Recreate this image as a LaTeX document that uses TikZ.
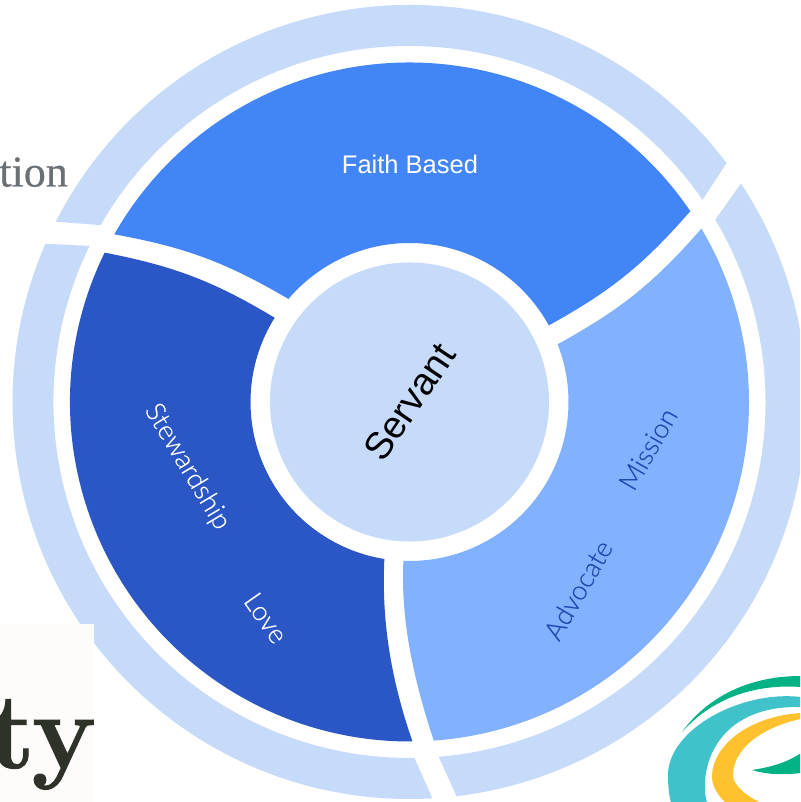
\documentclass[tikz,border=0pt]{standalone}
\usepackage{fontspec}
\setmainfont{Liberation Sans}
\newfontfamily\lightfont{Lato}[UprightFont=* Light,FakeBold=0.2]
\newfontfamily\logofont{Latin Modern Roman}[BoldFeatures={FakeBold=1}]
\newfontfamily\tionfont{Liberation Serif}[FakeBold=0.5]
\definecolor{ringblue}{HTML}{C6DAFA}
\definecolor{faithblue}{HTML}{4285F7}
\definecolor{stewblue}{HTML}{2B57C6}
\definecolor{advblue}{HTML}{82B1FF}
\definecolor{advtext}{HTML}{2248B4}
\definecolor{logogreen}{HTML}{00B284}
\definecolor{logoteal}{HTML}{40C2CB}
\definecolor{logoyellow}{HTML}{FFC22E}
\definecolor{creampatch}{HTML}{FDFCFA}
\definecolor{tytext}{HTML}{2E3229}
\definecolor{tiontext}{HTML}{6B7075}
\tikzset{
 ringpart/.style={fill=ringblue,draw=none},
 lab/.style={inner sep=0pt,font=\lightfont\fontsize{27}{27}\selectfont},
 logobit/.style={draw=none},
 pix/.style={yscale=-1,yshift=-802pt},
}
\begin{document}
\begin{tikzpicture}[x=1pt,y=1pt]
\useasboundingbox (0,0) rectangle (800,802);
\clip (0,0) rectangle (800,802);
\fill[white] (0,0) rectangle (800,802);
\begin{scope}[shift={(409.5,400)}]
% outer ring
\fill[ringpart] (154:356) arc[start angle=154,end angle=270.8,radius=356] -- (273.3:397) arc[start angle=273.3,end angle=156.5,radius=397] -- cycle;
\fill[ringpart] (34.6:356) arc[start angle=34.6,end angle=150.2,radius=356] -- (153:397) arc[start angle=153,end angle=37,radius=397] -- cycle;
\fill[ringpart] (274.7:356) arc[start angle=274.7,end angle=390.8,radius=356] -- (393.4:397) arc[start angle=393.4,end angle=276.8,radius=397] -- cycle;
% sectors
\fill[faithblue] (34.2:339.5) arc[start angle=34.2,end angle=150.4,radius=339.5] to[bend left=10] (139.6:159) arc[start angle=139.6,end angle=28.8,radius=159] to[bend right=10] cycle;
\fill[stewblue] (153.9:339.5) arc[start angle=153.9,end angle=270.5,radius=339.5] .. controls (-22.5,-266) and (-27.5,-208) .. (260.9:159) arc[start angle=260.9,end angle=148,radius=159] to[bend right=10] cycle;
\fill[advblue] (274.1:339.5) arc[start angle=274.1,end angle=390.7,radius=339.5] to[bend left=10] (21.3:159) arc[start angle=21.3,end angle=-92.2,radius=159] .. controls (-8.5,-208) and (-0.5,-264) .. cycle;
\node[circle,fill=ringblue,minimum size=279pt,inner sep=0pt,rotate=56,text=black,font=\fontsize{38}{38}\selectfont] (hub) at (0,0) {Servant};
\end{scope}
\begin{scope}[pix]
\node[inner sep=0pt,text=white,font=\fontsize{25.5}{25.5}\selectfont] (faith) at (410,164) {Faith Based};
\node[lab,text=white,rotate=-59] (stew) at (187,467) {Stewardship};
\node[lab,text=white,rotate=-55] (love) at (266,618) {Love};
\node[lab,text=advtext,rotate=60] (mission) at (648,449) {Mission};
\node[lab,text=advtext,rotate=60] (adv) at (578,590) {Advocate};
% cropped pictures
\node[anchor=base east,inner sep=0pt,text=tiontext,font=\tionfont\fontsize{44}{44}\selectfont] (tion) at (68,186.5) {tion};
\fill[creampatch] (0,624) rectangle (94,802);
\node[anchor=base east,inner sep=0pt,text=tytext,font=\logofont\bfseries\fontsize{108}{108}\selectfont] (ty) at (96,768) {ty};
% logo
\fill[logogreen,logobit] (682,732) .. controls (705,700) and (745,676) .. (801,676) -- (801,687) .. controls (760,684) and (715,695) .. (682,732) -- cycle;
\fill[logoteal,logobit] (801,697) .. controls (740,690) and (668,730) .. (668,775) .. controls (668,785) and (669,795) .. (671,803) -- (707,803) .. controls (698,770) and (715,705) .. (801,707) -- cycle;
\fill[logoyellow,logobit] (801,713) .. controls (750,716) and (712,745) .. (712,777) .. controls (712,785) and (717,795) .. (726,803) -- (761,803) .. controls (745,795) and (733,785) .. (733,775) .. controls (733,745) and (770,725) .. (801,719) -- cycle;
\fill[logogreen,logobit] (752,770) .. controls (772,767) and (788,762) .. (801,753) -- (801,773) .. controls (785,775) and (768,775) .. (752,770) -- cycle;
\end{scope}
\end{tikzpicture}
\end{document}
